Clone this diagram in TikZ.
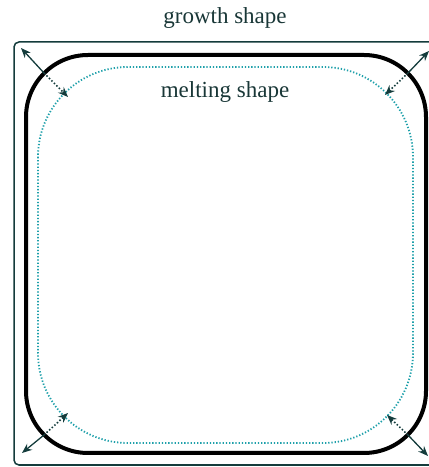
\documentclass[tikz,border=0pt]{standalone}
\usepackage{fontspec}
\setmainfont{Liberation Serif}
\usetikzlibrary{arrows.meta}
\definecolor{outerc}{RGB}{20,60,60}
\definecolor{dotc}{RGB}{30,160,170}
\definecolor{txtc}{RGB}{25,55,55}
\tikzset{
  outerbox/.style={draw=outerc,line width=1.5pt,rounded corners=5pt},
  growthline/.style={draw=black,line width=4pt,rounded corners=62pt},
  meltline/.style={draw=dotc,line width=1.8pt,dash pattern=on 1.3pt off 1.9pt,rounded corners=90pt},
  outarrow/.style={draw=outerc,line width=1.3pt,-{Stealth[length=10pt,width=8pt]}},
  inarrow/.style={draw=outerc,line width=1.6pt,dash pattern=on 1.5pt off 2pt,-{Stealth[length=10pt,width=8pt]}},
  lbl/.style={text=txtc,font=\fontsize{23}{26}\selectfont,inner sep=0pt}
}
\begin{document}
\begin{tikzpicture}[x=1pt,y=1pt]
\useasboundingbox (0,0) rectangle (429,467);
\clip (0,0) rectangle (429,467);
\draw[outerbox] (14,425) rectangle (437,2);
\draw[growthline] (26,412) rectangle (426,14);
\draw[meltline] (38,400) rectangle (413,24);
\node[lbl] (growth) at (225,449) {growth shape};
\node[lbl] (melting) at (225,375) {melting shape};
% top-left
\coordinate (tlm) at (44,394);
\coordinate (tlo) at (21,419);
\coordinate (tli) at (68,370);
% top-right
\coordinate (trm) at (408,394);
\coordinate (tro) at (429,416);
\coordinate (tri) at (385,372);
% bottom-right
\coordinate (brm) at (408,32);
\coordinate (bro) at (428,11);
\coordinate (bri) at (387,52);
% bottom-left
\coordinate (blm) at (44,32);
\coordinate (blo) at (22,14);
\coordinate (bli) at (68,54);
\foreach \c in {tl,tr,br,bl}{
  \draw[outarrow] (\c m) -- (\c o);
  \draw[inarrow] (\c m) -- (\c i);
}
\end{tikzpicture}
\end{document}
